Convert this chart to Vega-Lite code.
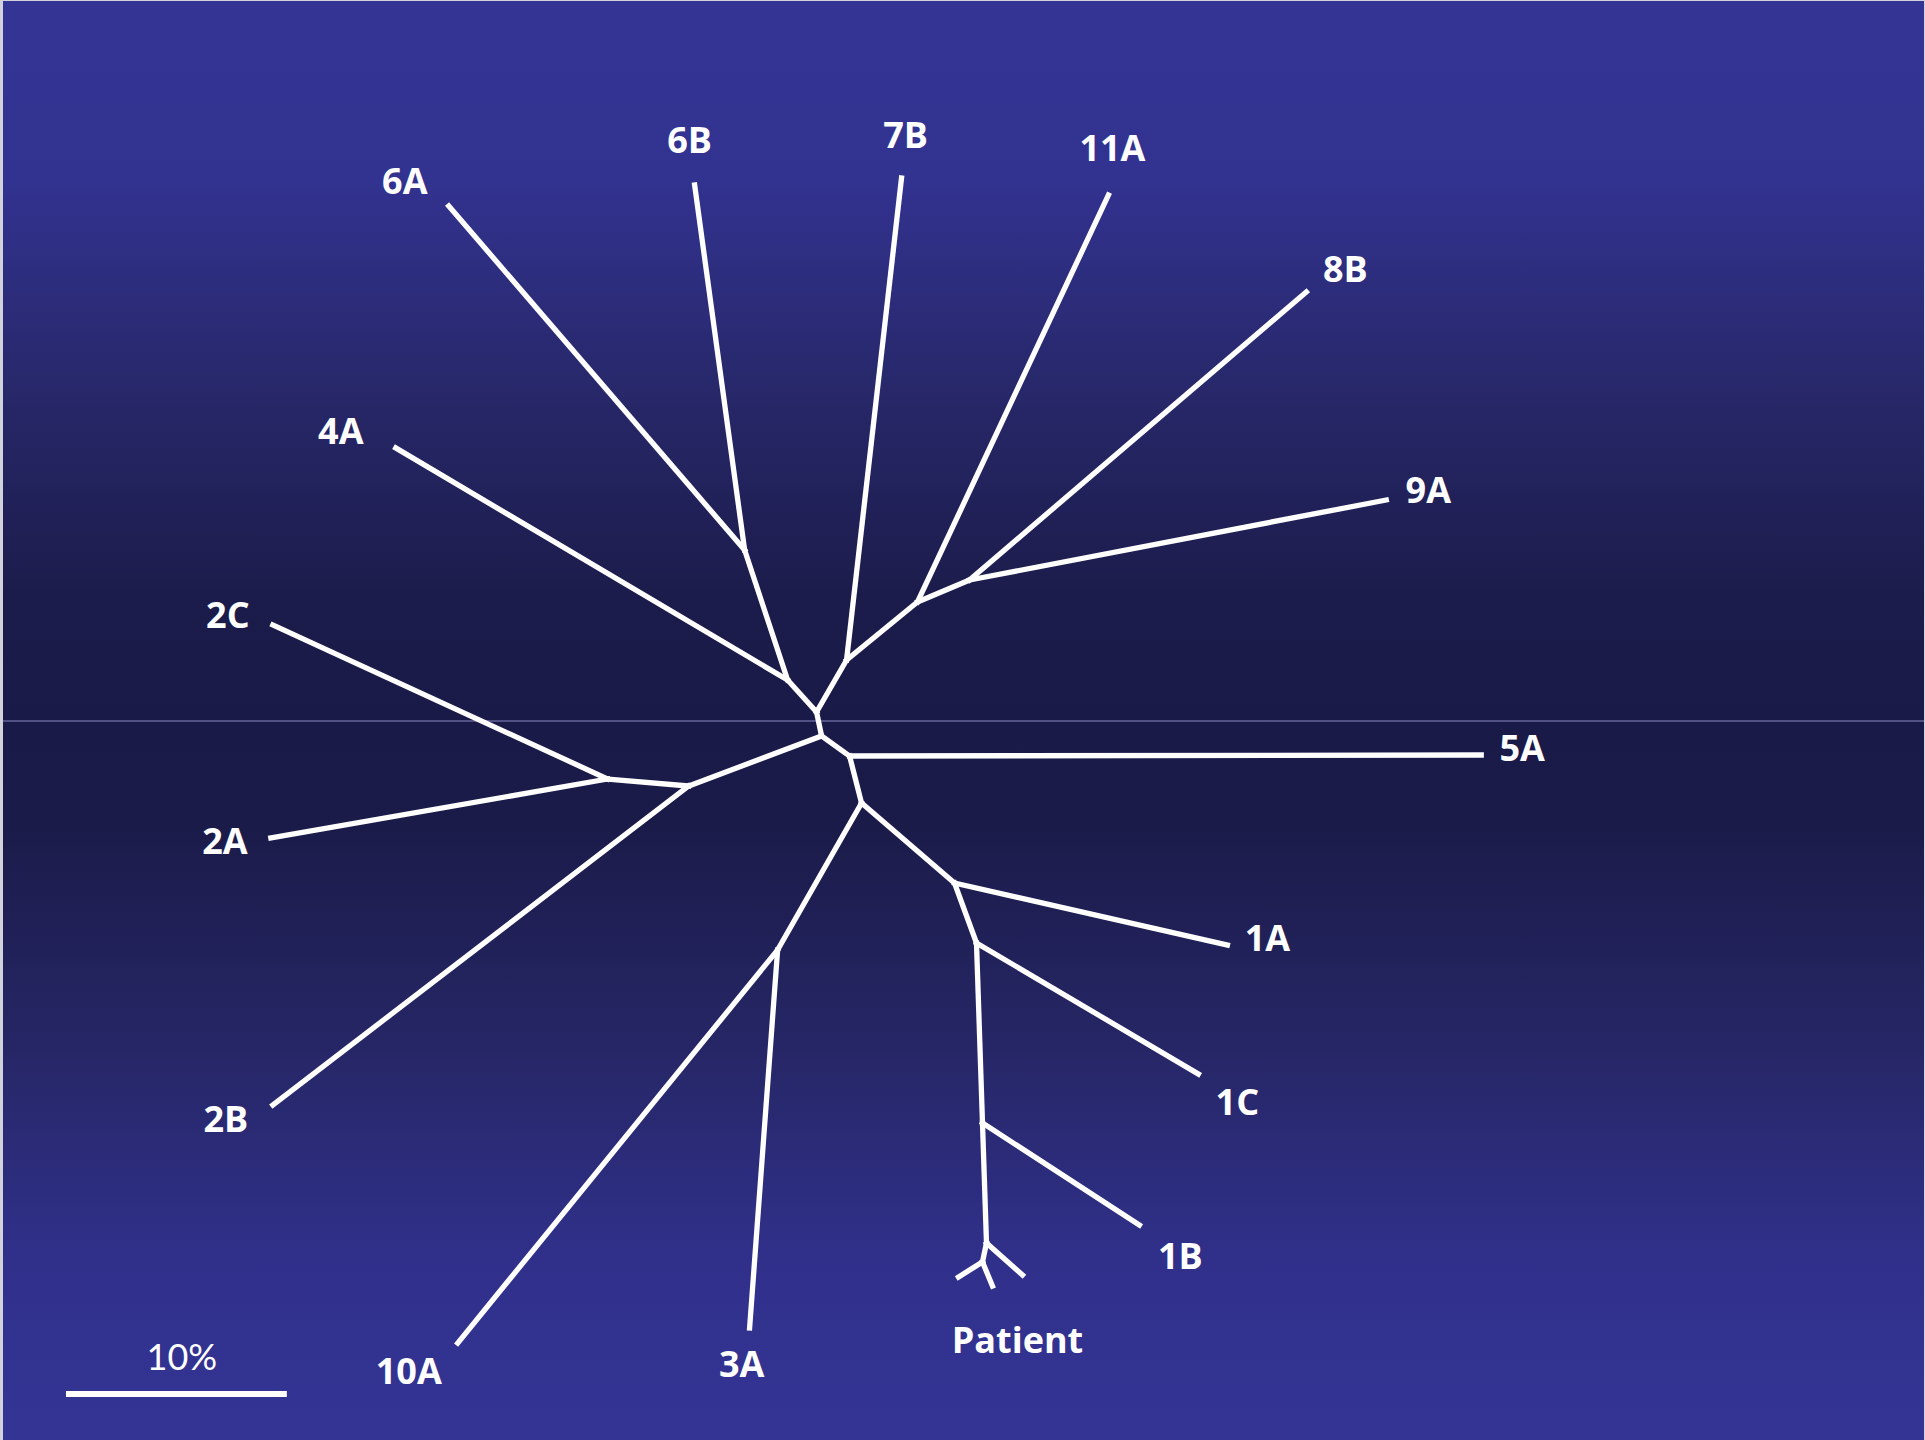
{
  "$schema": "https://vega.github.io/schema/vega-lite/v6.json",
  "width": 1925,
  "height": 1440,
  "autosize": {"type": "fit", "contains": "padding"},
  "padding": 0,
  "background": "#d2d2dc",
  "config": {"view": {"stroke": null}},
  "datasets": {
    "edges": [
      {"from": "A", "to": "B", "x1": 817, "y1": 712, "x2": 822, "y2": 736},
      {"from": "B", "to": "C", "x1": 822, "y1": 736, "x2": 850, "y2": 756},
      {"from": "B", "to": "J", "x1": 822, "y1": 736, "x2": 689, "y2": 786},
      {"from": "C", "to": "5A", "x1": 850, "y1": 756, "x2": 1482, "y2": 755},
      {"from": "C", "to": "D", "x1": 850, "y1": 756, "x2": 862, "y2": 803},
      {"from": "A", "to": "E", "x1": 817, "y1": 712, "x2": 788, "y2": 680},
      {"from": "A", "to": "F", "x1": 817, "y1": 712, "x2": 847, "y2": 660},
      {"from": "E", "to": "4A", "x1": 788, "y1": 680, "x2": 396, "y2": 448},
      {"from": "E", "to": "G", "x1": 788, "y1": 680, "x2": 745, "y2": 550},
      {"from": "G", "to": "6A", "x1": 745, "y1": 550, "x2": 449, "y2": 206},
      {"from": "G", "to": "6B", "x1": 745, "y1": 550, "x2": 695, "y2": 185},
      {"from": "F", "to": "7B", "x1": 847, "y1": 660, "x2": 902, "y2": 178},
      {"from": "F", "to": "H", "x1": 847, "y1": 660, "x2": 918, "y2": 602},
      {"from": "H", "to": "11A", "x1": 918, "y1": 602, "x2": 1109, "y2": 195},
      {"from": "H", "to": "I", "x1": 918, "y1": 602, "x2": 970, "y2": 580},
      {"from": "I", "to": "8B", "x1": 970, "y1": 580, "x2": 1307, "y2": 292},
      {"from": "I", "to": "9A", "x1": 970, "y1": 580, "x2": 1387, "y2": 500},
      {"from": "J", "to": "K", "x1": 689, "y1": 786, "x2": 608, "y2": 779},
      {"from": "J", "to": "2B", "x1": 689, "y1": 786, "x2": 273, "y2": 1105},
      {"from": "K", "to": "2C", "x1": 608, "y1": 779, "x2": 273, "y2": 625},
      {"from": "K", "to": "2A", "x1": 608, "y1": 779, "x2": 271, "y2": 838},
      {"from": "D", "to": "L", "x1": 862, "y1": 803, "x2": 778, "y2": 950},
      {"from": "D", "to": "M", "x1": 862, "y1": 803, "x2": 955, "y2": 883},
      {"from": "L", "to": "10A", "x1": 778, "y1": 950, "x2": 458, "y2": 1343},
      {"from": "L", "to": "3A", "x1": 778, "y1": 950, "x2": 750, "y2": 1328},
      {"from": "M", "to": "1A", "x1": 955, "y1": 883, "x2": 1228, "y2": 945},
      {"from": "M", "to": "N", "x1": 955, "y1": 883, "x2": 977, "y2": 943},
      {"from": "N", "to": "1C", "x1": 977, "y1": 943, "x2": 1199, "y2": 1074},
      {"from": "N", "to": "O", "x1": 977, "y1": 943, "x2": 983, "y2": 1123},
      {"from": "O", "to": "1B", "x1": 983, "y1": 1123, "x2": 1140, "y2": 1225},
      {"from": "O", "to": "P", "x1": 983, "y1": 1123, "x2": 987, "y2": 1243},
      {"from": "P", "to": "Q", "x1": 987, "y1": 1243, "x2": 983, "y2": 1262},
      {"from": "Q", "to": "p1", "x1": 983, "y1": 1262, "x2": 959, "y2": 1277},
      {"from": "Q", "to": "p2", "x1": 983, "y1": 1262, "x2": 993, "y2": 1286},
      {"from": "P", "to": "p3", "x1": 987, "y1": 1243, "x2": 1023, "y2": 1275}
    ],
    "labels": [
      {"label": "6A", "x": 405, "y": 180},
      {"label": "6B", "x": 690, "y": 139},
      {"label": "7B", "x": 906, "y": 134},
      {"label": "11A", "x": 1113, "y": 147},
      {"label": "8B", "x": 1346, "y": 268},
      {"label": "9A", "x": 1429, "y": 489},
      {"label": "4A", "x": 341, "y": 430},
      {"label": "2C", "x": 228, "y": 614},
      {"label": "5A", "x": 1523, "y": 747},
      {"label": "2A", "x": 225, "y": 840},
      {"label": "1A", "x": 1268, "y": 937},
      {"label": "1C", "x": 1238, "y": 1101},
      {"label": "2B", "x": 226, "y": 1118},
      {"label": "1B", "x": 1181, "y": 1255},
      {"label": "10A", "x": 409, "y": 1370},
      {"label": "3A", "x": 742, "y": 1363},
      {"label": "Patient", "x": 1018, "y": 1339}
    ],
    "scalebar": [{"label": "10%", "x1": 66, "x2": 287, "y": 1394, "ty": 1357, "tx": 182}]
  },
  "layer": [
    {
      "data": {"values": [{"part": "upper"}]},
      "mark": {"type": "rect", "color": {"gradient": "linear", "x1": 0, "y1": 0, "x2": 0, "y2": 1, "stops": [
        {"offset": 0, "color": "#343495"},
        {"offset": 0.25, "color": "#323290"},
        {"offset": 0.55, "color": "#272769"},
        {"offset": 0.82, "color": "#1c1c4c"},
        {"offset": 1, "color": "#1a1a48"}
      ]}},
      "encoding": {
        "x": {"datum": 3, "type": "quantitative", "scale": {"domain": [0, 1925], "nice": false, "zero": false}, "axis": null},
        "x2": {"datum": 1925},
        "y": {"datum": 1, "type": "quantitative", "scale": {"domain": [0, 1440], "nice": false, "zero": false, "reverse": true}, "axis": null},
        "y2": {"datum": 721}
      }
    },
    {
      "data": {"values": [{"part": "lower"}]},
      "mark": {"type": "rect", "color": {"gradient": "linear", "x1": 0, "y1": 0, "x2": 0, "y2": 1, "stops": [
        {"offset": 0, "color": "#1a1a48"},
        {"offset": 0.15, "color": "#1b1b4a"},
        {"offset": 0.45, "color": "#262666"},
        {"offset": 0.75, "color": "#30308b"},
        {"offset": 1, "color": "#343495"}
      ]}},
      "encoding": {
        "x": {"datum": 3, "type": "quantitative"},
        "x2": {"datum": 1925},
        "y": {"datum": 721, "type": "quantitative"},
        "y2": {"datum": 1440}
      }
    },
    {
      "data": {"values": [{"part": "seam"}]},
      "mark": {"type": "rule", "color": "#64649a", "strokeWidth": 1.5},
      "encoding": {
        "x": {"datum": 3, "type": "quantitative"},
        "x2": {"datum": 1925},
        "y": {"datum": 721, "type": "quantitative"}
      }
    },
    {
      "data": {"name": "edges"},
      "mark": {"type": "rule", "color": "white", "strokeWidth": 5.3, "strokeCap": "square"},
      "encoding": {
        "x": {"field": "x1", "type": "quantitative"},
        "y": {"field": "y1", "type": "quantitative"},
        "x2": {"field": "x2"},
        "y2": {"field": "y2"}
      }
    },
    {
      "data": {"name": "labels"},
      "mark": {"type": "text", "color": "white", "font": "Open Sans", "fontWeight": "bold", "fontSize": 36, "align": "center", "baseline": "middle", "dy": 3},
      "encoding": {
        "x": {"field": "x", "type": "quantitative"},
        "y": {"field": "y", "type": "quantitative"},
        "text": {"field": "label"}
      }
    },
    {
      "data": {"name": "scalebar"},
      "mark": {"type": "rule", "color": "white", "strokeWidth": 6},
      "encoding": {
        "x": {"field": "x1", "type": "quantitative"},
        "x2": {"field": "x2"},
        "y": {"field": "y", "type": "quantitative"}
      }
    },
    {
      "data": {"name": "scalebar"},
      "mark": {"type": "text", "color": "white", "font": "Lato", "fontSize": 36, "align": "center", "baseline": "middle", "dy": 2},
      "encoding": {
        "x": {"field": "tx", "type": "quantitative"},
        "y": {"field": "ty", "type": "quantitative"},
        "text": {"field": "label"}
      }
    }
  ]
}
